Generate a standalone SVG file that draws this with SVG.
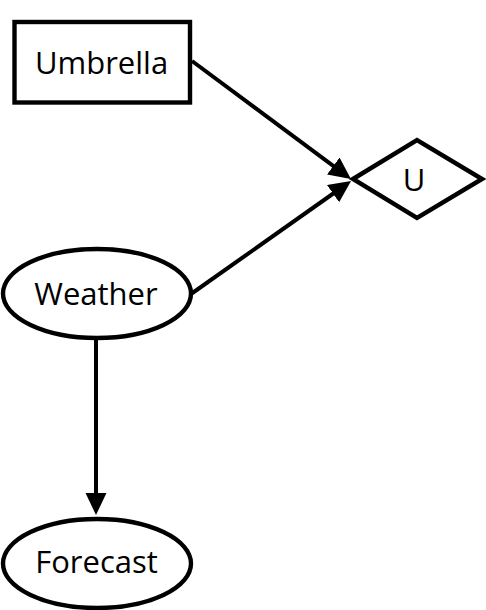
<svg xmlns="http://www.w3.org/2000/svg" width="486" height="610" viewBox="0 0 486 610">
<style>
.node{fill:#fff;stroke:#000;stroke-width:4.4}
.lbl{font-family:"Open Sans","Liberation Sans",sans-serif;font-size:31px;fill:#000;text-anchor:middle}
.edge{stroke:#000;stroke-width:4;fill:none}
</style>
<defs>
<marker id="arr" markerUnits="userSpaceOnUse" markerWidth="24" markerHeight="22" refX="2" refY="10.5" orient="auto">
<path d="M0,0 L22,10.5 L0,21 z" fill="#000"/>
</marker>
</defs>
<rect width="486" height="610" fill="#fff"/>
<g id="connectors">
<line class="edge" x1="192" y1="61" x2="334.9" y2="167.15" marker-end="url(#arr)"/>
<line class="edge" x1="191" y1="294" x2="334.7" y2="192.5" marker-end="url(#arr)"/>
<line class="edge" x1="96" y1="338" x2="96" y2="495" marker-end="url(#arr)"/>
</g>
<g id="umbrella">
<rect class="node" x="14.5" y="22" width="175.5" height="80.5"/>
<text class="lbl" x="101.5" y="74">Umbrella</text>
</g>
<g id="u">
<polygon class="node" points="353,179 417,140 482,179 417,218"/>
<text class="lbl" x="414" y="191">U</text>
</g>
<g id="weather">
<ellipse class="node" cx="97" cy="293.5" rx="94" ry="44.5"/>
<text class="lbl" x="96" y="305">Weather</text>
</g>
<g id="forecast">
<ellipse class="node" cx="97" cy="563.5" rx="94" ry="44.5"/>
<text class="lbl" x="96.5" y="573">Forecast</text>
</g>
</svg>
